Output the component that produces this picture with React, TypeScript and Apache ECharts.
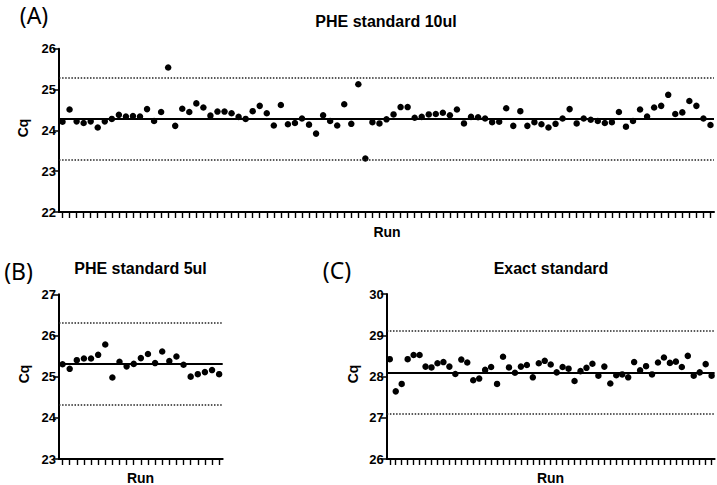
import React, { useEffect, useRef } from 'react';
import * as echarts from 'echarts';

// ---- data ----
const valuesA = [
  24.21, 24.51, 24.22, 24.18, 24.22, 24.07, 24.22, 24.28, 24.38, 24.34,
  24.35, 24.34, 24.52, 24.23, 24.45, 25.54, 24.11, 24.53, 24.45, 24.66,
  24.56, 24.36, 24.46, 24.46, 24.42, 24.33, 24.28, 24.47, 24.60, 24.42,
  24.12, 24.62, 24.15, 24.18, 24.29, 24.14, 23.92, 24.37, 24.23, 24.12,
  24.64, 24.16, 25.13, 23.31, 24.20, 24.17, 24.27, 24.39, 24.57, 24.57,
  24.31, 24.33, 24.39, 24.40, 24.43, 24.37, 24.51, 24.17, 24.33, 24.32,
  24.29, 24.20, 24.21, 24.54, 24.11, 24.47, 24.11, 24.20, 24.15, 24.07,
  24.16, 24.29, 24.52, 24.17, 24.29, 24.26, 24.23, 24.18, 24.20, 24.45,
  24.09, 24.23, 24.51, 24.34, 24.56, 24.60, 24.87, 24.40, 24.44, 24.72,
  24.60, 24.29, 24.13,
];
const valuesB = [
  25.30, 25.19, 25.40, 25.44, 25.44, 25.53, 25.78, 24.98, 25.36, 25.25,
  25.31, 25.45, 25.55, 25.33, 25.61, 25.38, 25.49, 25.29, 25.00, 25.06,
  25.11, 25.16, 25.06,
];
const valuesC = [
  28.42, 27.64, 27.82, 28.42, 28.52, 28.52, 28.24, 28.22, 28.32, 28.35,
  28.24, 28.06, 28.41, 28.34, 27.91, 27.95, 28.16, 28.23, 27.82, 28.48,
  28.22, 28.09, 28.24, 28.28, 27.98, 28.32, 28.38, 28.29, 28.10, 28.23,
  28.19, 27.89, 28.13, 28.21, 28.31, 28.02, 28.24, 27.83, 28.03, 28.05,
  27.98, 28.35, 28.15, 28.25, 28.05, 28.34, 28.46, 28.33, 28.36, 28.23,
  28.50, 28.02, 28.10, 28.30, 28.02,
];
// lower limit, mean, upper limit
const limitsA = [23.28, 24.28, 25.28];
const limitsB = [24.31, 25.31, 26.31];
const limitsC = [27.1, 28.1, 29.1];
const yRangeA = [22, 26];
const yRangeB = [23, 27];
const yRangeC = [26, 30];
const titles = ['PHE standard 10ul', 'PHE standard 5ul', 'Exact standard'];
const panelLabels = ['(A)', '(B)', '(C)'];
const xName = 'Run';
const yName = 'Cq';

const FONT = '"Liberation Sans", Arial, sans-serif';

const runs = (vals: number[]) => vals.map((_, i) => String(i + 1));

export default function App() {
  const ref = useRef<HTMLDivElement>(null);

  useEffect(() => {
    document.body.style.margin = '0';
    if (!ref.current) return;
    const chart = echarts.init(ref.current, null, { renderer: 'svg' });

    const grids = [
      { left: 59, top: 48.7, width: 655, height: 163.3 },
      { left: 59, top: 294.3, width: 163.7, height: 164.7 },
      { left: 386.8, top: 294, width: 327.8, height: 165 },
    ];
    const datasets = [valuesA, valuesB, valuesC];
    const limits = [limitsA, limitsB, limitsC];
    const ranges = [yRangeA, yRangeB, yRangeC];

    const xAxis = datasets.map((vals, i) => ({
      type: 'category',
      gridIndex: i,
      data: runs(vals),
      boundaryGap: true,
      axisLine: { show: true, lineStyle: { color: '#000', width: 2 } },
      axisTick: {
        show: true,
        alignWithLabel: true,
        interval: 0,
        length: 6,
        lineStyle: { color: '#000', width: 1.4 },
      },
      axisLabel: { show: true, interval: 0, color: 'rgba(0,0,0,0)', fontSize: 1, formatter: () => '' },
      splitLine: { show: false },
    }));

    const yAxis = ranges.map((r, i) => ({
      type: 'value',
      gridIndex: i,
      min: r[0],
      max: r[1],
      interval: 1,
      axisLine: { show: true, lineStyle: { color: '#000', width: 2 } },
      axisTick: { show: true, length: 6, lineStyle: { color: '#000', width: 1.5 } },
      axisLabel: { color: '#000', fontWeight: 'bold', fontSize: 13, fontFamily: FONT, margin: 3 },
      splitLine: { show: false },
    }));

    const series = datasets.map((vals, i) => ({
      type: 'scatter',
      xAxisIndex: i,
      yAxisIndex: i,
      data: vals,
      symbol: 'circle',
      symbolSize: 6.5,
      itemStyle: { color: '#000', opacity: 1 },
      z: 3,
      markLine: {
        silent: true,
        symbol: 'none',
        label: { show: false },
        emphasis: { disabled: true },
        data: [
          { yAxis: limits[i][0], lineStyle: { type: [1.5, 1.6], width: 1.5, color: '#222' } },
          { yAxis: limits[i][1], lineStyle: { type: 'solid', width: 1.8, color: '#000' } },
          { yAxis: limits[i][2], lineStyle: { type: [1.5, 1.6], width: 1.5, color: '#222' } },
        ],
      },
    }));

    const txt = (text: string, x: number, y: number, size: number, bold = true, rotation = 0, family = FONT) => ({
      type: 'text',
      x,
      y,
      rotation,
      style: {
        text,
        fill: '#000',
        font: `${bold ? 'bold ' : ''}${size}px ${family}`,
        align: 'center',
        verticalAlign: 'middle',
      },
    });

    const graphic = [
      txt(titles[0], 386, 21.5, 16),
      txt(titles[1], 140.5, 268, 16),
      txt(titles[2], 551, 268, 16),
      txt(xName, 387, 232, 14),
      txt(xName, 140.5, 477.5, 14),
      txt(xName, 550.5, 477.5, 14),
      txt(yName, 23, 128, 14, true, Math.PI / 2),
      txt(yName, 24, 374, 14, true, Math.PI / 2),
      txt(yName, 352.5, 374, 14, true, Math.PI / 2),
      txt(panelLabels[0], 34, 15, 23, false, 0, '"Noto Sans", "Open Sans", sans-serif'),
      txt(panelLabels[1], 18.5, 271, 23, false, 0, '"Noto Sans", "Open Sans", sans-serif'),
      txt(panelLabels[2], 337, 270, 23, false, 0, '"Noto Sans", "Open Sans", sans-serif'),
    ];

    chart.setOption({
      animation: false,
      backgroundColor: '#fff',
      grid: grids,
      xAxis,
      yAxis,
      series,
      graphic,
    } as any);

    return () => chart.dispose();
  }, []);

  return <div ref={ref} style={{ width: 717, height: 485 }} />;
}
